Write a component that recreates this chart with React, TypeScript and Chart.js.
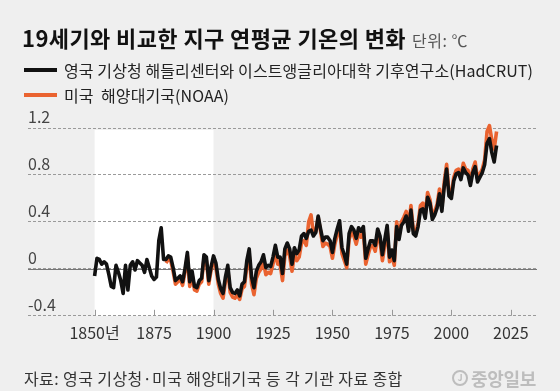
import React, { useEffect, useRef } from 'react';
import { Chart, registerables } from 'chart.js';

Chart.register(...registerables);

const TITLE = '19세기와 비교한 지구 연평균 기온의 변화';
const UNIT = '단위: ℃';
const LEGEND_HAD = '영국 기상청 해들리센터와 이스트앵글리아대학 기후연구소(HadCRUT)';
const LEGEND_NOAA = '미국  해양대기국(NOAA)';
const SOURCE = '자료: 영국 기상청·미국 해양대기국 등 각 기관 자료 종합';
const LOGO = '중앙일보';

const HAD_START = 1850;
const HADCRUT = [
  -0.06, 0.09, 0.08, 0.04, 0.06, 0.04, -0.05, -0.15, -0.16, 0.03,
  -0.03, -0.10, -0.21, 0.03, -0.18, 0.03, 0.06, -0.01, 0.07, 0.05,
  0.03, -0.03, 0.08, 0.01, -0.06, -0.09, -0.07, 0.24, 0.35, 0.08,
  0.08, 0.11, 0.10, 0.01, -0.10, -0.08, -0.06, -0.11, 0.00, 0.14,
  -0.11, -0.02, -0.15, -0.16, -0.10, -0.08, 0.12, 0.10, -0.10, 0.02,
  0.11, 0.05, -0.09, -0.17, -0.21, -0.07, 0.03, -0.16, -0.20, -0.21,
  -0.18, -0.23, -0.13, -0.11, 0.07, 0.17, -0.07, -0.16, -0.02, 0.03,
  0.06, 0.12, 0.01, 0.03, 0.02, 0.10, 0.20, 0.10, 0.10, -0.04,
  0.17, 0.22, 0.17, 0.04, 0.18, 0.13, 0.16, 0.28, 0.30, 0.26,
  0.32, 0.33, 0.28, 0.31, 0.45, 0.34, 0.24, 0.27, 0.27, 0.24,
  0.14, 0.26, 0.34, 0.41, 0.18, 0.12, 0.04, 0.30, 0.36, 0.33,
  0.26, 0.35, 0.32, 0.36, 0.09, 0.17, 0.24, 0.24, 0.20, 0.34,
  0.28, 0.12, 0.25, 0.37, 0.10, 0.16, 0.07, 0.36, 0.25, 0.37,
  0.40, 0.45, 0.32, 0.50, 0.30, 0.28, 0.36, 0.50, 0.51, 0.43,
  0.61, 0.56, 0.42, 0.46, 0.52, 0.64, 0.49, 0.70, 0.85, 0.62,
  0.60, 0.75, 0.81, 0.82, 0.76, 0.86, 0.82, 0.80, 0.71, 0.82,
  0.87, 0.74, 0.78, 0.82, 0.89, 1.07, 1.11, 0.99, 0.91, 1.05,
];

const NOAA_START = 1880;
const NOAA = [
  0.05, 0.08, 0.07, -0.02, -0.13, -0.11, -0.09, -0.14, -0.03, 0.11,
  -0.15, -0.05, -0.18, -0.19, -0.13, -0.11, 0.09, 0.07, -0.13, -0.01,
  0.07, 0.01, -0.13, -0.21, -0.25, -0.11, -0.01, -0.20, -0.24, -0.25,
  -0.22, -0.26, -0.17, -0.15, 0.02, 0.11, -0.13, -0.22, -0.08, -0.03,
  0.00, 0.06, -0.05, -0.03, -0.04, 0.04, 0.14, 0.04, 0.04, -0.10,
  0.11, 0.16, 0.11, -0.02, 0.12, 0.07, 0.10, 0.22, 0.24, 0.20,
  0.40, 0.46, 0.30, 0.32, 0.44, 0.32, 0.19, 0.22, 0.21, 0.19,
  0.09, 0.21, 0.29, 0.36, 0.13, 0.07, 0.01, 0.25, 0.31, 0.28,
  0.21, 0.30, 0.27, 0.31, 0.04, 0.12, 0.19, 0.20, 0.15, 0.29,
  0.23, 0.07, 0.20, 0.33, 0.06, 0.11, 0.03, 0.40, 0.28, 0.40,
  0.44, 0.49, 0.35, 0.54, 0.33, 0.31, 0.39, 0.54, 0.56, 0.46,
  0.65, 0.59, 0.45, 0.49, 0.55, 0.68, 0.52, 0.74, 0.89, 0.65,
  0.63, 0.78, 0.84, 0.85, 0.79, 0.90, 0.85, 0.84, 0.74, 0.85,
  0.91, 0.77, 0.81, 0.85, 0.93, 1.17, 1.22, 1.10, 1.02, 1.17,
];

const X_MIN = 1822;
const X_MAX = 2036;
const X_TICKS = [1850, 1875, 1900, 1925, 1950, 1975, 2000, 2025];
const X_TICK_LABELS = ['1850년', '1875', '1900', '1925', '1950', '1975', '2000', '2025'];
const Y_MIN = -0.4;
const Y_MAX = 1.2;
const Y_TICKS = [-0.4, 0, 0.4, 0.8, 1.2];
const Y_TICK_LABELS = ['-0.4', '0', '0.4', '0.8', '1.2'];
const BAND_START = 1850;
const BAND_END = 1900;

const FONT = "'Noto Sans CJK KR', 'Noto Sans', sans-serif";
const BLACK = '#111111';
const ORANGE = '#ea6330';

const decorPlugin = {
  id: 'decor',
  beforeDraw(chart: any) {
    const { ctx, chartArea, scales } = chart;
    const x = scales.x;
    const l = x.getPixelForValue(BAND_START);
    const r = x.getPixelForValue(BAND_END);
    ctx.save();
    ctx.fillStyle = '#ffffff';
    ctx.fillRect(l, chartArea.top + 2, r - l, chartArea.bottom - chartArea.top - 2);
    ctx.restore();
  },
  beforeDatasetsDraw(chart: any) {
    const { ctx, chartArea, scales } = chart;
    const x = scales.x;
    const y = scales.y;
    ctx.save();
    const y0 = Math.round(y.getPixelForValue(0)) + 0.5;
    ctx.strokeStyle = '#777777';
    ctx.lineWidth = 1;
    ctx.beginPath();
    ctx.moveTo(chartArea.left, y0);
    ctx.lineTo(chartArea.right, y0);
    ctx.stroke();
    ctx.strokeStyle = '#999999';
    X_TICKS.forEach((v) => {
      const px = Math.round(x.getPixelForValue(v)) + 0.5;
      ctx.beginPath();
      ctx.moveTo(px, chartArea.bottom - 6);
      ctx.lineTo(px, chartArea.bottom);
      ctx.stroke();
    });
    ctx.restore();
  },
};

function ChartCanvas() {
  const ref = useRef<HTMLCanvasElement | null>(null);
  useEffect(() => {
    if (!ref.current) return;
    const chart = new Chart(ref.current, {
      type: 'line',
      data: {
        datasets: [
          {
            label: 'HadCRUT',
            data: HADCRUT.map((v, i) => ({ x: HAD_START + i, y: v })),
            borderColor: BLACK,
            borderWidth: 3.6,
            pointRadius: 0,
            tension: 0,
            borderJoinStyle: 'round',
            clip: false,
          },
          {
            label: 'NOAA',
            data: NOAA.map((v, i) => ({ x: NOAA_START + i, y: v })),
            borderColor: ORANGE,
            borderWidth: 3.6,
            pointRadius: 0,
            tension: 0,
            borderJoinStyle: 'round',
            clip: false,
          },
        ],
      },
      options: {
        animation: false,
        responsive: false,
        devicePixelRatio: 1,
        layout: { padding: { left: 28, right: 23, top: 128, bottom: 40 } },
        plugins: {
          legend: { display: false },
          title: { display: false },
          tooltip: { enabled: false },
        },
        scales: {
          x: {
            type: 'linear',
            min: X_MIN,
            max: X_MAX,
            afterBuildTicks: (scale: any) => {
              scale.ticks = X_TICKS.map((v) => ({ value: v }));
            },
            grid: { display: false, drawTicks: false },
            border: { display: false },
            ticks: {
              autoSkip: false,
              maxRotation: 0,
              padding: 8,
              color: '#333333',
              font: { family: FONT, size: 16 },
              callback: (_v: any, i: number) => X_TICK_LABELS[i],
            },
          },
          y: {
            type: 'linear',
            min: Y_MIN,
            max: Y_MAX,
            afterBuildTicks: (scale: any) => {
              scale.ticks = Y_TICKS.map((v) => ({ value: v }));
            },
            grid: { color: '#9a9a9a', lineWidth: 1, drawTicks: false },
            border: { display: false, dash: [3, 2] },
            ticks: {
              mirror: true,
              padding: 0,
              labelOffset: -11,
              color: '#444444',
              font: { family: FONT, size: 16 },
              callback: (_v: any, i: number) => Y_TICK_LABELS[i],
            },
          },
        },
      },
      plugins: [decorPlugin],
    } as any);
    return () => chart.destroy();
  }, []);
  return (
    <canvas
      ref={ref}
      width={560}
      height={391}
      style={{ position: 'absolute', left: 0, top: 0, width: 560, height: 391 }}
    />
  );
}

export default function App() {
  const abs: React.CSSProperties = { position: 'absolute', whiteSpace: 'nowrap' };
  return (
    <div
      style={{
        position: 'fixed',
        left: 0,
        top: 0,
        width: 560,
        height: 391,
        background: '#efefef',
        overflow: 'hidden',
        fontFamily: FONT,
      }}
    >
      <ChartCanvas />
      <div
        style={{
          ...abs,
          left: 22,
          top: 24,
          lineHeight: '26px',
          fontSize: 22,
          fontWeight: 700,
          color: '#111',
          letterSpacing: 0.4,
        }}
      >
        {TITLE}
        <span style={{ fontSize: 16, fontWeight: 400, color: '#555', marginLeft: 6, letterSpacing: 0.5 }}>
          {UNIT}
        </span>
      </div>
      {[
        { text: LEGEND_HAD, color: BLACK, top: 59 },
        { text: LEGEND_NOAA, color: ORANGE, top: 84 },
      ].map((it) => (
        <div
          key={it.text}
          style={{ ...abs, left: 24, top: it.top, height: 22, display: 'flex', alignItems: 'center' }}
        >
          <div style={{ width: 33, height: 4, background: it.color }} />
          <span style={{ marginLeft: 7, fontSize: 16, lineHeight: '22px', color: '#222', letterSpacing: 0.1, whiteSpace: 'pre' }}>
            {it.text}
          </span>
        </div>
      ))}
      <div style={{ ...abs, left: 24, top: 367, lineHeight: '22px', fontSize: 16, color: '#333', letterSpacing: 0.4 }}>
        {SOURCE}
      </div>
      <div style={{ ...abs, left: 452, top: 367, height: 22, display: 'flex', alignItems: 'center', color: '#bdbdbd' }}>
        <span
          style={{
            width: 16,
            height: 16,
            borderRadius: '50%',
            border: '2px solid #bdbdbd',
            boxSizing: 'border-box',
            fontSize: 9,
            fontWeight: 700,
            lineHeight: '12px',
            textAlign: 'center',
            marginRight: 3,
          }}
        >
          J
        </span>
        <span style={{ fontSize: 18, fontWeight: 700, letterSpacing: -0.3 }}>{LOGO}</span>
      </div>
    </div>
  );
}
